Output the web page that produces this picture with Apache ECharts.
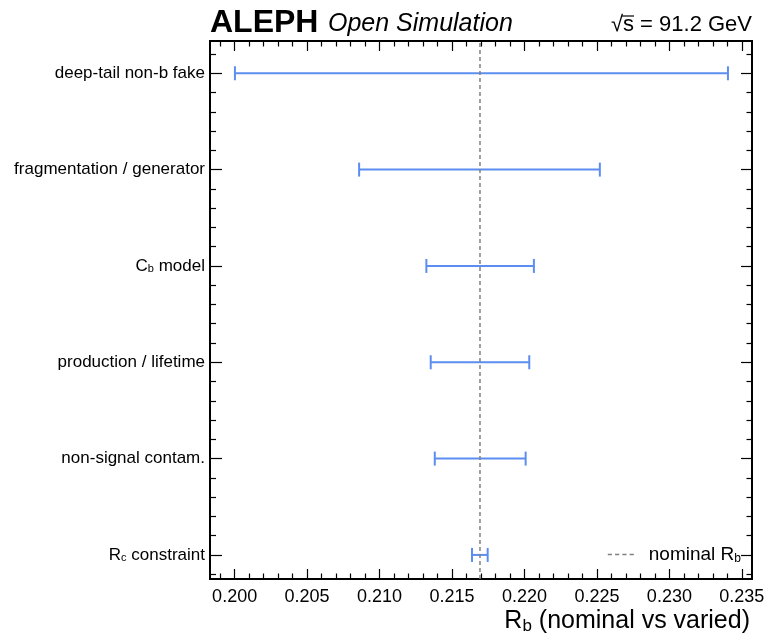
<!DOCTYPE html>
<html>
<head>
<meta charset="utf-8">
<script src="https://cdn.jsdelivr.net/npm/echarts@6/dist/echarts.min.js"></script>
<style>html,body{margin:0;padding:0;background:#fff;}#c{width:771px;height:637px;}</style>
</head>
<body>
<div id="c"></div>
<script>
// ---- data ----
var categories = ['R{s|c} constraint', 'non-signal contam.', 'production / lifetime', '{n|C}{s|b}{n| model}', 'fragmentation / generator', 'deep-tail non-b fake'];
var lowValues  = [0.21638, 0.21381, 0.21353, 0.21323, 0.20859, 0.20002];
var highValues = [0.21746, 0.22008, 0.22033, 0.22065, 0.22520, 0.23404];
var nominalRb = 0.21693;
var xMajorTicks = [0.200, 0.205, 0.210, 0.215, 0.220, 0.225, 0.230, 0.235];
var xRange = [0.1983, 0.2357];
var yRange = [-0.25, 5.335];

var FONT = 'Liberation Sans, Arial, Helvetica, sans-serif';
var barColor = '#5b8ef0';

var yMajor = categories.map(function (c, i) { return i; });
var yMinor = [];
for (var k = -1; k <= 26; k++) { var v = +(k * 0.2).toFixed(3); if (k % 5 !== 0 && v > yRange[0] && v < yRange[1]) yMinor.push(v); }
var xMinor = [];
for (var m = 198; m <= 236; m++) { var xv = m / 1000; if (m % 5 !== 0 && xv > xRange[0] && xv < xRange[1]) xMinor.push(xv); }

var errData = categories.map(function (c, i) { return [i, lowValues[i], highValues[i]]; });

function xAxisDef(pos, ticks, len, labels) {
  return {
    type: 'value', position: pos, min: xRange[0], max: xRange[1],
    axisLine: { show: false, onZero: false }, splitLine: { show: false },
    axisTick: { show: true, inside: true, length: len, customValues: ticks, lineStyle: { color: '#000', width: 1.2 } },
    axisLabel: labels ? { show: true, customValues: ticks, margin: 9, fontSize: 18, color: '#000', fontFamily: FONT,
      hideOverlap: false, showMinLabel: true, showMaxLabel: true,
      formatter: function (v) { return v.toFixed(3); } } : { show: false }
  };
}
function yAxisDef(pos, ticks, len, labels) {
  return {
    type: 'value', position: pos, min: yRange[0], max: yRange[1],
    axisLine: { show: false, onZero: false }, splitLine: { show: false },
    axisTick: { show: true, inside: true, length: len, customValues: ticks, lineStyle: { color: '#000', width: 1.2 } },
    axisLabel: labels ? { show: true, customValues: ticks, margin: 5, fontSize: 17, color: '#000', fontFamily: FONT,
      formatter: function (v) { return categories[Math.round(v)]; },
      rich: { s: { fontSize: 11, verticalAlign: 'bottom', padding: [7, 0, 0, 0], fontFamily: FONT, color: '#000' },
              n: { fontSize: 17, fontFamily: FONT, color: '#000' } } } : { show: false }
  };
}

var xMain = xAxisDef('bottom', xMajorTicks, 10, true);
xMain.name = '{a|R}{s|b}{a| (nominal vs varied)}';
xMain.nameLocation = 'end';
xMain.nameGap = -2;
xMain.nameTextStyle = { align: 'right', verticalAlign: 'top', padding: [29, 0, 0, 0], color: '#000', fontFamily: FONT,
  rich: { a: { fontSize: 25, fontFamily: FONT, color: '#000' }, s: { fontSize: 17, fontFamily: FONT, color: '#000', verticalAlign: 'bottom', padding: [10, 0, 0, 0] } } };

var chart = echarts.init(document.getElementById('c'));
chart.setOption({
  animation: false,
  backgroundColor: '#fff',
  grid: { left: 210, right: 19, top: 41, bottom: 58, show: true, borderColor: '#000', borderWidth: 2, backgroundColor: 'transparent',
          containLabel: false, outerBoundsMode: 'none' },
  xAxis: [
    xMain,
    xAxisDef('bottom', xMinor, 5.5, false),
    xAxisDef('top', xMajorTicks, 10, false),
    xAxisDef('top', xMinor, 5.5, false)
  ],
  yAxis: [
    yAxisDef('left', yMajor, 12, true),
    yAxisDef('left', yMinor, 6, false),
    yAxisDef('right', yMajor, 11, false),
    yAxisDef('right', yMinor, 5.5, false)
  ],
  legend: {
    show: true, right: 25, top: 540, orient: 'vertical',
    itemWidth: 26, itemHeight: 1.6, itemGap: 0,
    data: [{ name: 'nominal', icon: 'path://M0,0h4v1.5h-4z M7,0h4v1.5h-4z M14,0h4v1.5h-4z M21,0h4v1.5h-4z' }],
    itemStyle: { color: '#808080' },
    formatter: function () { return '{a|nominal R}{s|b}'; },
    textStyle: { padding: [0, 0, 0, 10], rich: {
      a: { fontSize: 19, fontFamily: FONT, color: '#000' },
      s: { fontSize: 12, fontFamily: FONT, color: '#000', verticalAlign: 'bottom', padding: [8, 0, 0, 0] } } }
  },
  series: [
    {
      type: 'custom', name: 'variations', xAxisIndex: 0, yAxisIndex: 0, clip: false,
      data: errData,
      encode: { x: [1, 2], y: 0 },
      renderItem: function (params, api) {
        var y = api.value(0);
        var p1 = api.coord([api.value(1), y]);
        var p2 = api.coord([api.value(2), y]);
        var h = 7;
        var st = { stroke: barColor, lineWidth: 2 };
        return { type: 'group', children: [
          { type: 'line', shape: { x1: p1[0], y1: p1[1], x2: p2[0], y2: p2[1] }, style: st },
          { type: 'line', shape: { x1: p1[0], y1: p1[1] - h, x2: p1[0], y2: p1[1] + h }, style: st },
          { type: 'line', shape: { x1: p2[0], y1: p2[1] - h, x2: p2[0], y2: p2[1] + h }, style: st }
        ] };
      },
      z: 2
    },
    {
      type: 'line', name: 'nominal', xAxisIndex: 0, yAxisIndex: 0,
      data: [[nominalRb, yRange[0]], [nominalRb, yRange[1]]],
      symbol: 'none', showSymbol: false,
      lineStyle: { color: '#808080', width: 1.5, type: [4, 3] },
      itemStyle: { color: '#808080' },
      z: 3
    }
  ],
  graphic: [
    { type: 'text', left: 210, top: 7, style: { text: 'ALEPH', font: 'bold 32px ' + FONT, fill: '#000' } },
    { type: 'text', left: 328, top: 12, style: { text: 'Open Simulation', font: 'italic 25px ' + FONT, fill: '#000' } },
    { type: 'text', right: 19, top: 14, style: { text: '√s = 91.2 GeV', font: '22px ' + FONT, fill: '#000' } },
    { type: 'line', shape: { x1: 622, y1: 16, x2: 634, y2: 16 }, style: { stroke: '#000', lineWidth: 1.2 } }
  ]
});
</script>
</body>
</html>
